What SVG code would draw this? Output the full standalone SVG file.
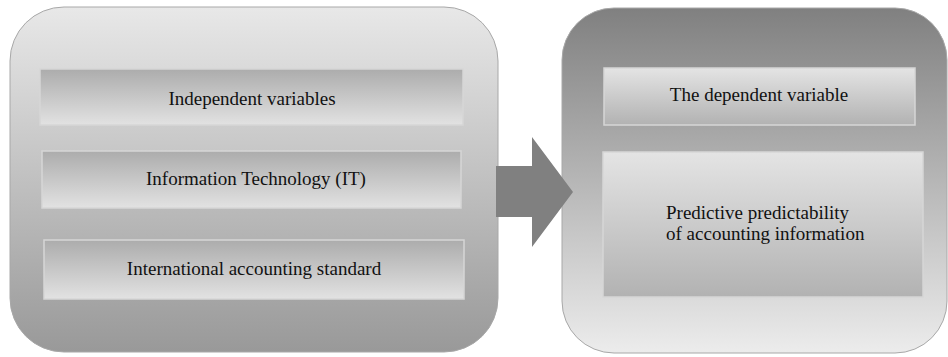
<svg xmlns="http://www.w3.org/2000/svg" width="948" height="357" viewBox="0 0 948 357">
<defs>
<linearGradient id="gL" x1="0" y1="0" x2="0" y2="1"><stop offset="0" stop-color="#e8e8e8"/><stop offset="1" stop-color="#999999"/></linearGradient>
<linearGradient id="gR" x1="0" y1="0" x2="0" y2="1"><stop offset="0" stop-color="#808080"/><stop offset="1" stop-color="#ececec"/></linearGradient>
<linearGradient id="gIn" x1="0" y1="0" x2="0" y2="1"><stop offset="0" stop-color="#acacac"/><stop offset="1" stop-color="#e2e2e2"/></linearGradient>
<linearGradient id="gInR" x1="0" y1="0" x2="0" y2="1"><stop offset="0" stop-color="#e4e4e4"/><stop offset="1" stop-color="#b2b2b2"/></linearGradient>
</defs>
<style>
.bg{stroke:#a8a8a8;stroke-width:1}
.box{stroke:#d6d6d6;stroke-width:1.5}
.t{font-family:"Liberation Serif","Times New Roman",serif;font-size:19px;fill:#111}
</style>
<g id="left-panel">
<rect class="bg" x="10" y="7" width="488" height="345" rx="54" fill="url(#gL)"/>
</g>
<g id="right-panel">
<rect class="bg" x="562" y="8" width="385" height="345" rx="52" fill="url(#gR)" stroke="#e0e0e0"/>
</g>
<g id="node-independent">
<rect class="box" x="40" y="69" width="423" height="56" fill="url(#gIn)"/>
<text class="t" x="252" y="105" text-anchor="middle">Independent variables</text>
</g>
<g id="node-it">
<rect class="box" x="42" y="151" width="419" height="57" fill="url(#gIn)"/>
<text class="t" x="256" y="185" text-anchor="middle">Information Technology (IT)</text>
</g>
<g id="node-ias">
<rect class="box" x="44" y="240" width="420" height="59" fill="url(#gIn)"/>
<text class="t" x="254" y="275" text-anchor="middle">International accounting standard</text>
</g>
<g id="node-dependent">
<rect class="box" x="604" y="68" width="311" height="57" fill="url(#gInR)"/>
<text class="t" x="759" y="101" text-anchor="middle">The dependent variable</text>
</g>
<g id="node-predictive">
<rect class="box" x="603" y="152" width="320" height="145" fill="url(#gInR)"/>
<text class="t" x="666" y="219">Predictive predictability</text>
<text class="t" x="666" y="240">of accounting information</text>
</g>
<g id="connectors">
<polygon points="496,166 532,166 532,137 573,192 532,247 532,217 496,217" fill="#808080"/>
</g>
</svg>
